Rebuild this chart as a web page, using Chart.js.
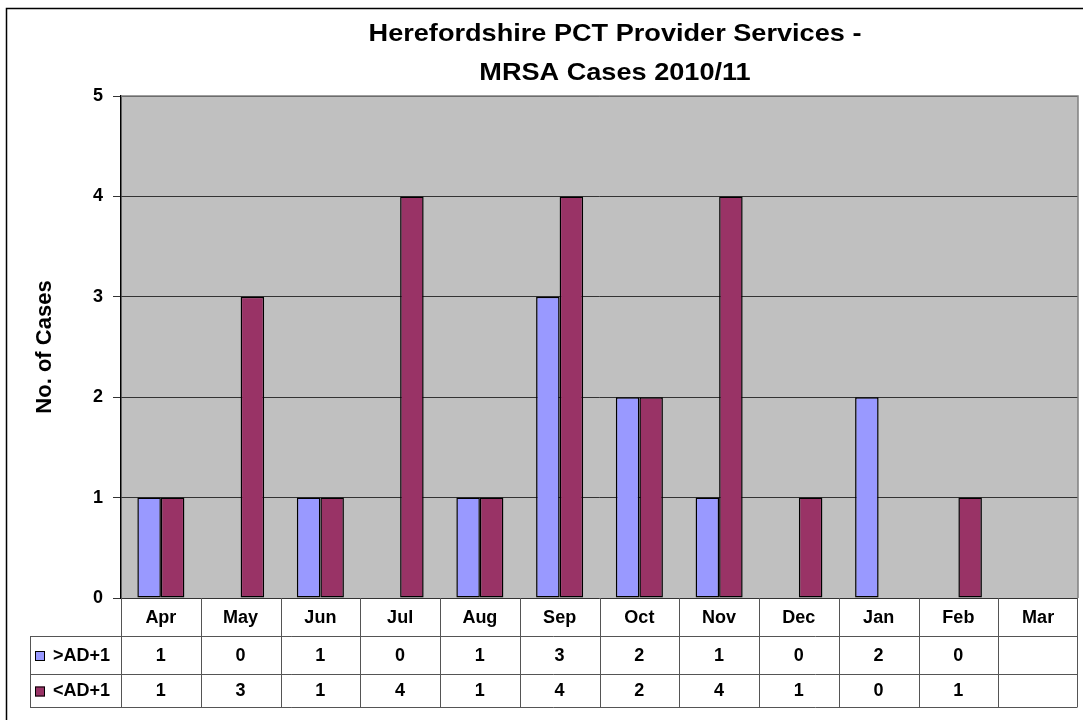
<!DOCTYPE html>
<html lang="en">
<head>
  <meta charset="UTF-8" />
  <title>Herefordshire PCT Provider Services - MRSA Cases 2010/11</title>
  <script src="https://cdn.jsdelivr.net/npm/chart.js"></script>
  <style>
    html, body { margin: 0; padding: 0; background: #fff; }
    #wrap { width: 1083px; height: 720px; }
  </style>
</head>
<body>
  <div id="wrap"><canvas id="mrsaChart" width="1083" height="720"></canvas></div>

  <script>
    // data
    const months = ['Apr', 'May', 'Jun', 'Jul', 'Aug', 'Sep', 'Oct', 'Nov', 'Dec', 'Jan', 'Feb', 'Mar'];
    const afterAdmission = [1, 0, 1, 0, 1, 3, 2, 1, 0, 2, 0, null];   // >AD+1
    const beforeAdmission = [1, 3, 1, 4, 1, 4, 2, 4, 1, 0, 1, null];  // <AD+1
    const seriesNames = ['>AD+1', '<AD+1'];
    const seriesColors = ['#9999ff', '#993366'];
    const titleLines = ['Herefordshire PCT Provider Services -', 'MRSA Cases 2010/11'];
    const yAxisTitle = 'No. of Cases';

    const FONT = '"Liberation Sans", Arial, sans-serif';

    // table rows under the plot (y positions)
    const rowEdges = [598, 636, 674, 707];
    const tableLeft = 30;

    const framePlugin = {
      id: 'frame',
      beforeDraw(chart) {
        const { ctx, chartArea: a } = chart;
        ctx.save();
        ctx.fillStyle = '#fff';
        ctx.fillRect(0, 0, chart.width, chart.height);
        ctx.fillStyle = '#c0c0c0';
        ctx.fillRect(a.left, a.top, a.right - a.left, a.bottom - a.top);
        // outer frame (only left and top show in the picture)
        ctx.strokeStyle = '#000';
        ctx.lineWidth = 1.5;
        ctx.beginPath();
        ctx.moveTo(6.5, chart.height);
        ctx.lineTo(6.5, 8.5);
        ctx.lineTo(chart.width, 8.5);
        ctx.stroke();
        ctx.restore();
      },
      beforeDatasetsDraw(chart) {
        const { ctx, chartArea: a } = chart;
        ctx.save();
        ctx.strokeStyle = '#808080';
        ctx.lineWidth = 1.5;
        ctx.beginPath();
        ctx.moveTo(a.left, a.top);
        ctx.lineTo(a.right, a.top);
        ctx.lineTo(a.right, a.bottom);
        ctx.stroke();
        ctx.restore();
      },
      afterDraw(chart) {
        const { ctx, chartArea: a } = chart;
        const x = chart.scales.x;
        ctx.save();

        // title, a little wider than the stock font
        ctx.fillStyle = '#000';
        ctx.font = 'bold 24px ' + FONT;
        ctx.textAlign = 'center';
        ctx.textBaseline = 'middle';
        ctx.save();
        ctx.translate(615, 0);
        ctx.scale(1.13, 1);
        ctx.fillText(titleLines[0], 0, 34);
        ctx.fillText(titleLines[1], 0, 73);
        ctx.restore();

        // data table
        const colW = (a.right - a.left) / months.length;
        const tableRight = a.right - 1;
        ctx.strokeStyle = '#555';
        ctx.lineWidth = 1;
        ctx.beginPath();
        for (let i = 0; i <= months.length; i++) {
          const cx = Math.round(a.left + i * colW) + 0.5;
          const xx = i === months.length ? tableRight + 0.5 : cx;
          ctx.moveTo(xx, rowEdges[0]);
          ctx.lineTo(xx, rowEdges[3]);
        }
        for (let r = 1; r < rowEdges.length; r++) {
          ctx.moveTo(tableLeft, rowEdges[r] + 0.5);
          ctx.lineTo(tableRight + 0.5, rowEdges[r] + 0.5);
        }
        ctx.moveTo(tableLeft + 0.5, rowEdges[1]);
        ctx.lineTo(tableLeft + 0.5, rowEdges[3]);
        ctx.stroke();

        ctx.font = 'bold 18px ' + FONT;
        ctx.textAlign = 'center';
        const rowMid = r => (rowEdges[r] + rowEdges[r + 1]) / 2 + 1;
        months.forEach((m, i) => {
          const cx = x.getPixelForValue(i);
          ctx.fillText(m, cx, rowMid(0));
          const v1 = afterAdmission[i], v2 = beforeAdmission[i];
          ctx.fillText(v1 === null ? '' : String(v1), cx, rowMid(1));
          ctx.fillText(v2 === null ? '' : String(v2), cx, rowMid(2));
        });

        // legend keys in the first column
        seriesNames.forEach((name, k) => {
          const cy = rowMid(k + 1);
          ctx.fillStyle = seriesColors[k];
          ctx.fillRect(35, cy - 5, 10, 10);
          ctx.strokeStyle = '#000';
          ctx.strokeRect(35.5, cy - 4.5, 9, 9);
          ctx.fillStyle = '#000';
          ctx.textAlign = 'left';
          ctx.fillText(name, 53, cy);
        });
        ctx.restore();
      }
    };

    const chart = new Chart(document.getElementById('mrsaChart').getContext('2d'), {
      type: 'bar',
      data: {
        labels: months,
        datasets: [
          {
            label: seriesNames[0],
            data: afterAdmission,
            backgroundColor: seriesColors[0],
            borderColor: '#000',
            borderWidth: 1.5,
            borderSkipped: false,
            categoryPercentage: 0.59,
            barPercentage: 1
          },
          {
            label: seriesNames[1],
            data: beforeAdmission,
            backgroundColor: seriesColors[1],
            borderColor: '#000',
            borderWidth: 1.5,
            borderSkipped: false,
            categoryPercentage: 0.59,
            barPercentage: 1
          }
        ]
      },
      options: {
        responsive: false,
        devicePixelRatio: 1,
        animation: false,
        layout: { padding: { left: 30, top: 96, right: 5, bottom: 122 } },
        plugins: {
          legend: { display: false },
          tooltip: { enabled: false }
        },
        scales: {
          x: { display: false },
          y: {
            min: 0,
            max: 5,
            afterFit(scale) { scale.width = 91; },
            ticks: {
              stepSize: 1,
              color: '#000',
              padding: 10,
              font: { family: FONT, size: 18, weight: 'bold' }
            },
            grid: { color: '#333', lineWidth: 1, tickLength: 8 },
            border: { color: '#000', width: 1.5 },
            title: {
              display: true,
              text: yAxisTitle,
              color: '#000',
              padding: { top: 2, bottom: 0 },
              font: { family: FONT, size: 22, weight: 'bold' }
            }
          }
        }
      },
      plugins: [framePlugin]
    });
  </script>
</body>
</html>
